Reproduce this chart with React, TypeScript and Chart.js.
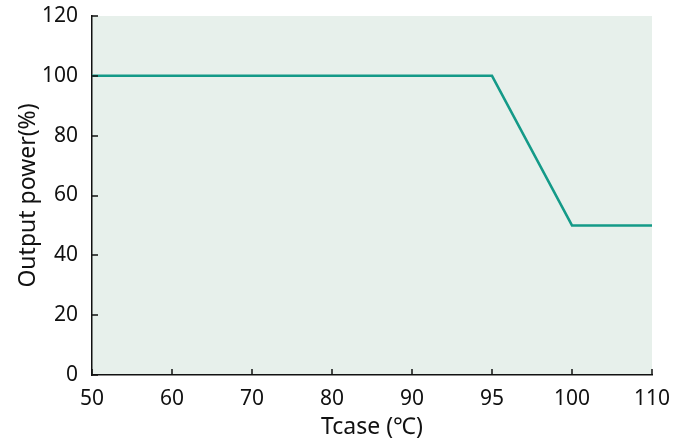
import React, { useEffect, useRef } from "react";
import { Chart, registerables } from "chart.js";

Chart.register(...registerables);

const categories = ["50", "60", "70", "80", "90", "95", "100", "110"];
const curveX = ["50", "95", "100", "110"];
const curveY = [100, 100, 50, 50];
const yTicks = [0, 20, 40, 60, 80, 100, 120];

const FONT = "'Noto Sans', 'Open Sans', sans-serif";

const bgPlugin = {
  id: "bgPlugin",
  beforeDraw(chart: any) {
    const { ctx, chartArea } = chart;
    ctx.save();
    ctx.fillStyle = "#E7F0EB";
    ctx.fillRect(chartArea.left, chartArea.top, chartArea.right - chartArea.left, chartArea.bottom - chartArea.top);
    ctx.restore();
  },
  afterDraw(chart: any) {
    const { ctx, chartArea } = chart;
    const xs = chart.scales.x;
    const ys = chart.scales.y;
    ctx.save();
    ctx.strokeStyle = "#111";
    ctx.lineWidth = 1.5;
    ctx.beginPath();
    ys.ticks.forEach((_t: any, i: number) => {
      const y = Math.round(ys.getPixelForTick(i));
      ctx.moveTo(chartArea.left, y);
      ctx.lineTo(chartArea.left + 6, y);
    });
    xs.ticks.forEach((_t: any, i: number) => {
      const x = Math.round(xs.getPixelForTick(i));
      ctx.moveTo(x, chartArea.bottom);
      ctx.lineTo(x, chartArea.bottom - 6);
    });
    ctx.stroke();
    ctx.restore();
  },
};

export default function App() {
  const ref = useRef<HTMLCanvasElement>(null);
  useEffect(() => {
    if (!ref.current) return;
    const chart = new Chart(ref.current, {
      type: "line",
      data: {
        labels: categories,
        datasets: [
          {
            data: curveX.map((x, i) => ({ x, y: curveY[i] })) as any,
            borderColor: "#149A88",
            borderWidth: 2.5,
            pointRadius: 0,
            tension: 0,
            fill: false,
          },
        ],
      },
      options: {
        animation: false,
        responsive: false,
        maintainAspectRatio: false,
        layout: { padding: { top: 16, right: 39, left: 0, bottom: 0 } },
        plugins: { legend: { display: false }, tooltip: { enabled: false } },
        scales: {
          x: {
            type: "category",
            offset: false,
            grid: { display: false, drawTicks: false, tickLength: 0 },
            border: { display: true, color: "#111", width: 1.5 },
            ticks: { color: "#111", font: { family: FONT, size: 21 }, padding: 11, maxRotation: 0, autoSkip: false },
            title: { display: true, text: "Tcase (℃)", color: "#111", font: { family: FONT, size: 23 }, padding: { top: 0, bottom: 0 } },
            afterFit(scale: any) {
              scale.height = 66;
              scale.paddingLeft = 0;
              scale.paddingRight = 0;
            },
          },
          y: {
            min: 0,
            max: 120,
            grid: { display: false, drawTicks: false, tickLength: 0 },
            border: { display: true, color: "#111", width: 1.5 },
            afterBuildTicks(scale: any) {
              scale.ticks = yTicks.map((v) => ({ value: v }));
            },
            ticks: { color: "#111", font: { family: FONT, size: 21 }, padding: 14 },
            title: { display: true, text: "Output power(%)", color: "#111", font: { family: FONT, size: 23 }, padding: { top: 15, bottom: 0 } },
            afterFit(scale: any) {
              scale.width = 92;
              scale.paddingTop = 0;
              scale.paddingBottom = 0;
            },
          },
        },
      },
      plugins: [bgPlugin],
    });
    return () => chart.destroy();
  }, []);
  return (
    <div style={{ position: "fixed", left: 0, top: 0, width: 691, height: 441, background: "#fff" }}>
      <canvas ref={ref} width={691} height={441} style={{ width: 691, height: 441 }} />
    </div>
  );
}
